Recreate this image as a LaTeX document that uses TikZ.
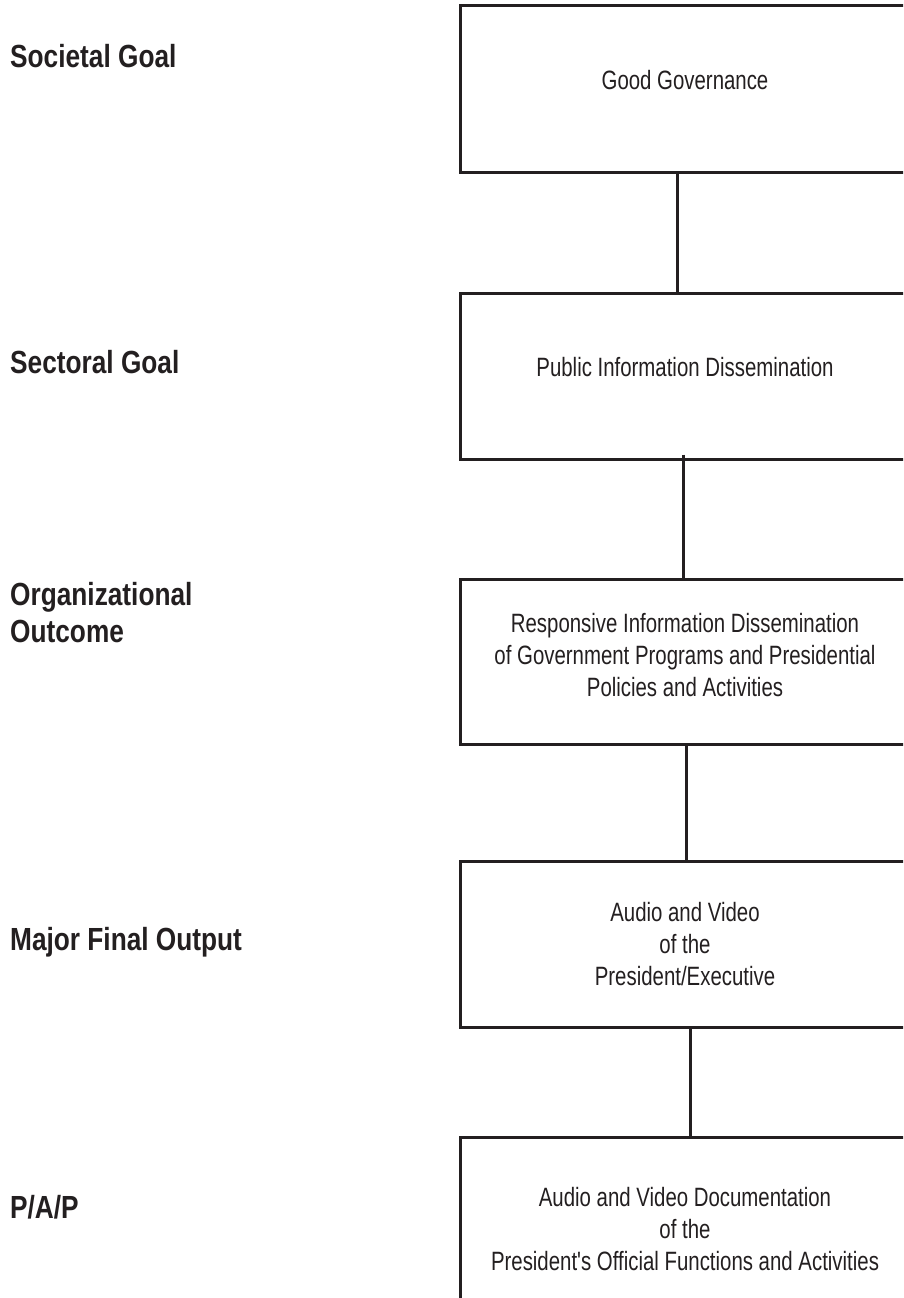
\documentclass[tikz,border=0pt]{standalone}
\usepackage{fontspec}
\newfontfamily\narrowfont{Liberation Sans}[FakeStretch=0.82]
\newfontfamily\boxfont{Liberation Sans}[FakeStretch=0.77]
\usepackage{tikz}
\usetikzlibrary{positioning}
\usepackage{xcolor}
\definecolor{pinkblack}{RGB}{35,31,32}
\tikzstyle{levelbox} = [rectangle, minimum width=450pt, minimum height=166pt, inner sep=0pt, align=center, draw=pinkblack, text=pinkblack, line width=3pt, font=\boxfont\fontsize{26.5}{32}\selectfont]
\tikzstyle{levellabel} = [anchor=base west, inner sep=0pt, align=left, text=pinkblack, font=\narrowfont\bfseries\fontsize{32}{37}\selectfont]
\tikzstyle{link} = [line width=3pt, draw=pinkblack]

\begin{document}
\begin{tikzpicture}[x=1pt, y=-1pt]
\useasboundingbox (0,0) rectangle (903,1298);
\clip (0,0) rectangle (903,1298);
% Levels
\node[levellabel] (lsoc) at (10,67) {Societal Goal};
\node[levellabel] (lsec) at (10,373) {Sectoral Goal};
\node[levellabel] (lorg) at (10,642) {Organizational\\Outcome};
\node[levellabel] (lmfo) at (10,950) {Major Final Output};
\node[levellabel] (lpap) at (10,1218) {P/A/P};
% Boxes
\node[levelbox] (b1) at (685,89) {Good Governance\\[-14pt]};
\node[levelbox] (b2) at (685,376) {Public Information Dissemination\\[-14pt]};
\node[levelbox, minimum height=165pt] (b3) at (685,661.5) {Responsive Information Dissemination\\of Government Programs and Presidential\\Policies and Activities\\[-18pt]};
\node[levelbox] (b4) at (685,944) {Audio and Video\\of the\\President/Executive};
\node[levelbox, minimum height=200pt] (b5) at (685,1237) {Audio and Video Documentation\\of the\\President's Official Functions and Activities\\[-16pt]};
% Links
\draw[link] ([xshift=-8pt]b1.south) -- ([xshift=-8pt]b2.north);
\draw[link] ([xshift=-2pt,yshift=6pt]b2.south) -- ([xshift=-2pt]b3.north);
\draw[link] ([xshift=1pt]b3.south) -- ([xshift=1pt]b4.north);
\draw[link] ([xshift=5pt]b4.south) -- ([xshift=5pt]b5.north);
\end{tikzpicture}
\end{document}
